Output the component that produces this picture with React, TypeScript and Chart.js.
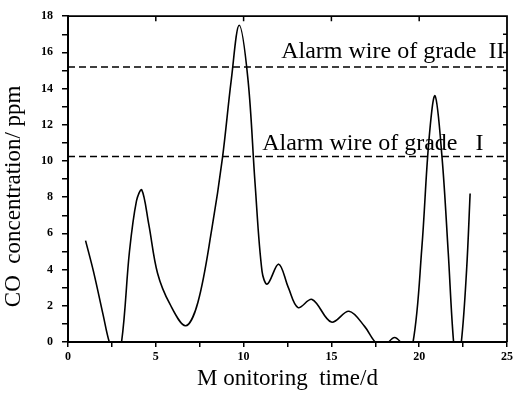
import React, { useEffect, useRef } from "react";
import { Chart, registerables } from "chart.js";

Chart.register(...registerables);

// Monitoring time (days) and CO concentration (ppm)
const timeDays = [1.0, 1.45, 2.0, 2.35, 2.7, 3.05, 3.5, 3.9, 4.2, 4.6, 5.1, 5.8, 6.7, 7.4, 8.2, 8.8, 9.3, 9.75, 10.25, 10.65, 11.05, 11.35, 12.0, 12.55, 13.1, 13.9, 15.0, 16.0, 16.9, 17.5, 18.0, 18.6, 19.2, 19.65, 20.15, 20.55, 20.9, 21.3, 21.65, 21.95, 22.15, 22.4, 22.7, 22.9];
const coPpm = [5.6, 3.9, 1.5, 0.0, -0.8, 0.0, 5.0, 7.8, 8.4, 6.5, 3.8, 2.1, 0.9, 2.2, 6.3, 10.2, 14.5, 17.5, 14.5, 8.8, 3.9, 3.2, 4.3, 3.0, 1.9, 2.35, 1.1, 1.7, 0.85, 0.0, -0.2, 0.25, -0.2, 0.0, 5.2, 11.1, 13.6, 10.2, 5.0, 0.1, -1.0, 0.0, 4.0, 8.2];

// Alarm thresholds
const alarmLevels = [15.2, 10.25];
const alarmLabels = ["Alarm wire of grade  II", "Alarm wire of grade   I"];

// Axis ranges and ticks
const xRange = [0, 25];
const yRange = [0, 18];
const xStep = 2.5;
const yStep = 1;
const topTickValues = [5, 10, 15, 20];
const rightTickValues = [1, 2, 3, 4, 5, 6, 7, 8, 9, 10, 11, 12, 13, 14, 15, 16, 17];

const xTitle = "M onitoring  time/d";
const yTitle = "CO  concentration/ ppm      ";

const SERIF = '"Liberation Serif", "Times New Roman", serif';

const framePlugin = {
  id: "frame",
  afterDatasetsDraw(chart: any) {
    const { ctx, chartArea: a, scales } = chart;
    const xs = scales.x;
    const ys = scales.y;
    ctx.save();
    ctx.strokeStyle = "#000";
    ctx.lineWidth = 1.8;
    ctx.beginPath();
    ctx.moveTo(a.left, a.top);
    ctx.lineTo(a.right, a.top);
    ctx.lineTo(a.right, a.bottom);
    ctx.stroke();
    ctx.lineWidth = 1.5;
    ctx.beginPath();
    for (const v of topTickValues) {
      const px = xs.getPixelForValue(v);
      ctx.moveTo(px, a.top);
      ctx.lineTo(px, a.top + 5);
    }
    for (const v of rightTickValues) {
      const py = ys.getPixelForValue(v);
      ctx.moveTo(a.right, py);
      ctx.lineTo(a.right - 4, py);
    }
    ctx.stroke();

    ctx.fillStyle = "#000";
    ctx.font = "24px " + SERIF;
    ctx.textAlign = "left";
    ctx.textBaseline = "alphabetic";
    const labelPos = [
      [12.14, 15.7],
      [11.06, 10.6],
    ];
    alarmLabels.forEach((t, i) => {
      ctx.fillText(t, xs.getPixelForValue(labelPos[i][0]), ys.getPixelForValue(labelPos[i][1]));
    });
    ctx.restore();
  },
};

export default function App() {
  const ref = useRef<HTMLCanvasElement | null>(null);

  useEffect(() => {
    if (!ref.current) return;
    const curve = timeDays.map((t, i) => ({ x: t, y: coPpm[i] }));
    const alarmSets = alarmLevels.map((lv) => ({
      data: [
        { x: xRange[0], y: lv },
        { x: xRange[1], y: lv },
      ],
      borderColor: "#000",
      borderWidth: 1.5,
      borderDash: [7, 4],
      pointRadius: 0,
      tension: 0,
    }));
    const chart = new Chart(ref.current, {
      type: "line",
      data: {
        datasets: [
          {
            data: curve,
            borderColor: "#000",
            borderWidth: 1.6,
            pointRadius: 0,
            tension: 0.35,
          },
          ...alarmSets,
        ],
      },
      plugins: [framePlugin],
      options: {
        animation: false,
        responsive: false,
        layout: { padding: { top: 13, right: 6, left: 0, bottom: 0 } },
        plugins: { legend: { display: false }, tooltip: { enabled: false } },
        scales: {
          x: {
            type: "linear",
            min: xRange[0],
            max: xRange[1],
            afterFit(scale: any) {
              scale.height = 52;
            },
            border: { display: true, color: "#000", width: 2 },
            grid: { drawOnChartArea: false, drawTicks: true, tickLength: 5, color: "#000", lineWidth: 1.5 },
            ticks: {
              stepSize: xStep,
              autoSkip: false,
              maxRotation: 0,
              padding: 3,
              color: "#000",
              font: { family: SERIF, size: 12, weight: "bold" },
              callback: (v: any) => (Number(v) % 5 === 0 ? String(v) : ""),
            },
            title: {
              display: true,
              text: xTitle,
              color: "#000",
              font: { family: SERIF, size: 23 },
              padding: { top: 0, bottom: 1 },
            },
          },
          y: {
            type: "linear",
            min: yRange[0],
            max: yRange[1],
            afterFit(scale: any) {
              scale.width = 68;
            },
            border: { display: true, color: "#000", width: 2 },
            grid: { drawOnChartArea: false, drawTicks: true, tickLength: 6, color: "#000", lineWidth: 1.5 },
            ticks: {
              stepSize: yStep,
              autoSkip: false,
              padding: 9,
              color: "#000",
              font: { family: SERIF, size: 12, weight: "bold" },
              callback: (v: any) => (Number(v) % 2 === 0 ? String(v) : ""),
            },
            title: {
              display: true,
              text: yTitle,
              color: "#000",
              font: { family: SERIF, size: 23 },
              padding: { top: 0, bottom: 0 },
            },
          },
        },
      },
    });
    return () => chart.destroy();
  }, []);

  return (
    <div style={{ position: "absolute", left: 0, top: 0, width: 516, height: 394, background: "#fff" }}>
      <canvas ref={ref} width={516} height={394} style={{ width: 516, height: 394 }} />
    </div>
  );
}
